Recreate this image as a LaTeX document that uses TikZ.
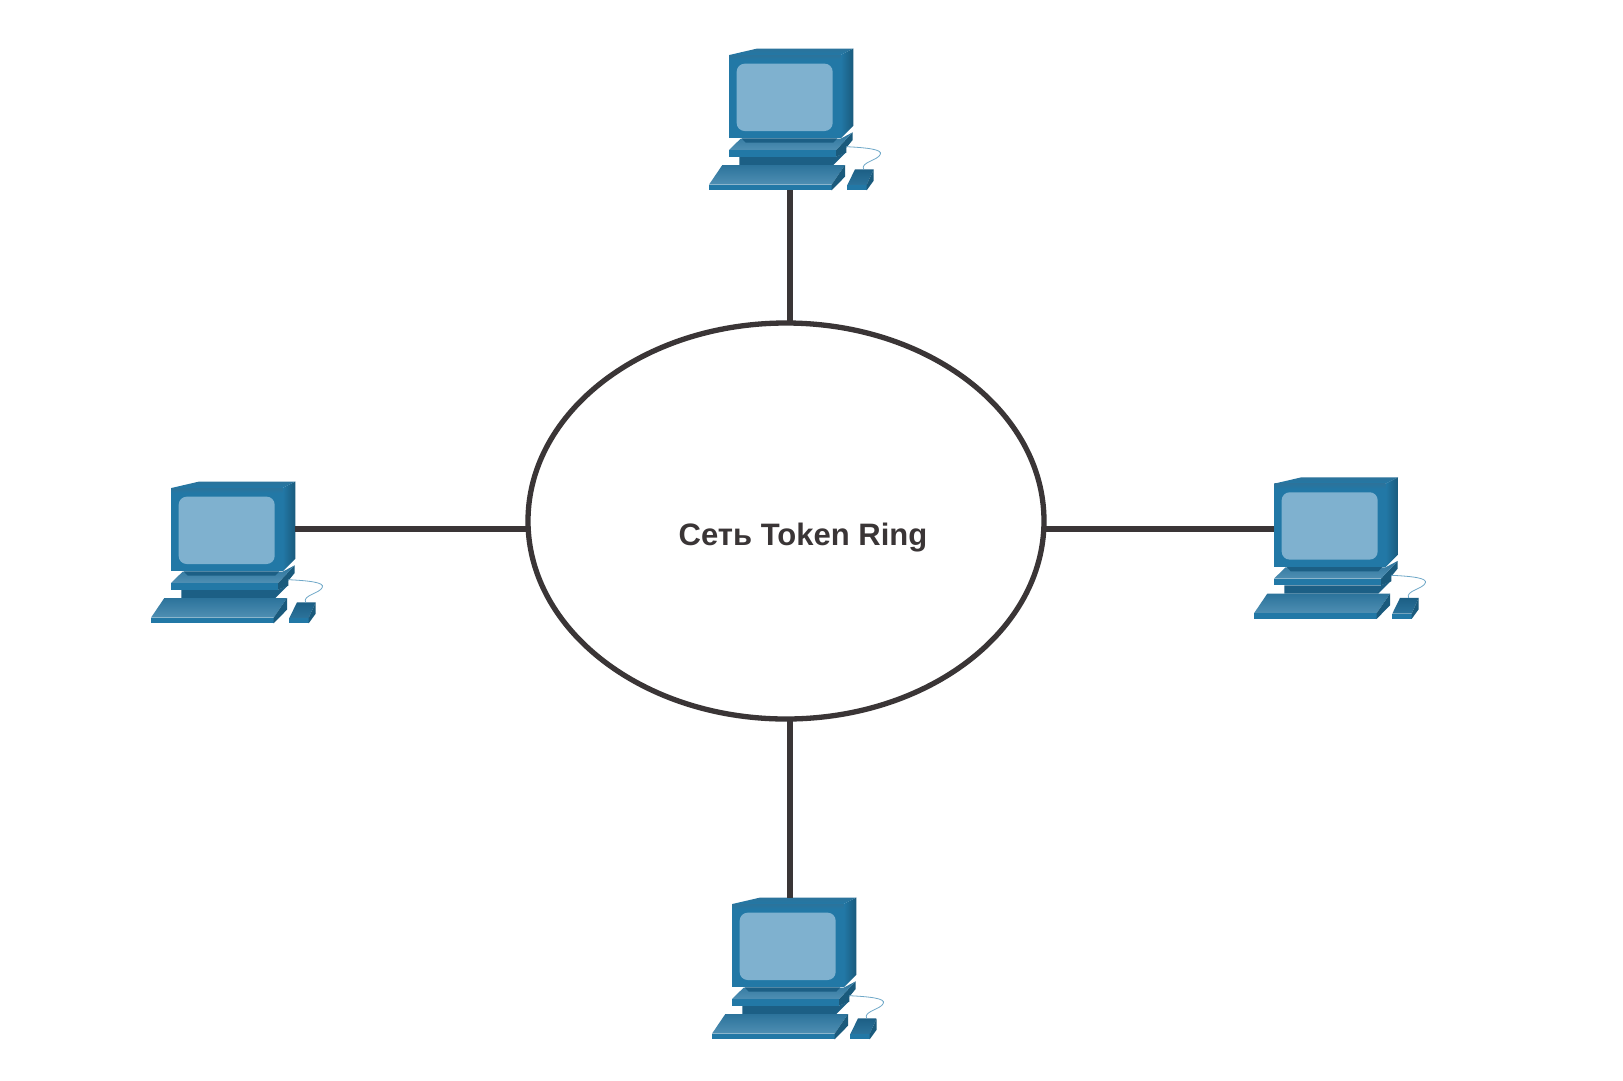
\documentclass[tikz,border=0pt]{standalone}
\usepackage{fontspec}
\setmainfont{Liberation Sans}
\usetikzlibrary{shapes.geometric}
\definecolor{pcfront}{HTML}{2278A6}
\definecolor{pcscreen}{HTML}{7FB1CF}
\definecolor{pcdark}{HTML}{1C5F85}
\definecolor{pcmid}{HTML}{2C739B}
\definecolor{pclight}{HTML}{4F8FB3}
\definecolor{pcedge}{HTML}{1A5A7C}
\definecolor{pcwire}{HTML}{6FA8C8}
\definecolor{inkgray}{HTML}{3A3536}
\tikzset{
  linkline/.style={draw=inkgray,line width=5.3pt},
  ringshape/.style={ellipse,draw=inkgray,line width=5.3pt,minimum width=516pt,minimum height=396pt,inner sep=0pt,outer sep=0pt},
  ringlabel/.style={text=inkgray,font=\fontsize{31}{37}\selectfont\bfseries,inner sep=0pt,anchor=base},
  computer/.pic={
    \begin{scope}[scale=1/3]
      % monitor top and side
      \path[top color=pcmid,bottom color=pcfront] (118,60)--(200,41)--(490,41)--(452,60)--cycle;
      \path[left color=pcfront,right color=pcedge] (452,60)--(490,41)--(490,272)--(452,310)--cycle;
      % base plate
      \path[fill=pcdark] (148,365)--(438,365)--(468,352)--(430,390)--(148,390)--cycle;
      \path[fill=pcedge] (438,345)--(488,292)--(488,315)--(469,338)--(469,353)--(438,365)--cycle;
      \path[top color=pcmid,bottom color=pclight] (117,345)--(152,311)--(452,311)--(488,292)--(438,345)--cycle;
      \path[fill=pcfront] (117,345) rectangle (438,365);
      \path[fill=pcdark] (155,310)--(442,310)--(430,323)--(167,323)--cycle;
      % front of monitor
      \path[fill=pcfront] (118,60) rectangle (452,310);
      \path[top color=pcmid,bottom color=pcfront] (118,60) rectangle (452,75);
      \path[fill=pcscreen,rounded corners=8pt] (140,86) rectangle (428,288);
      % keyboard
      \path[top color=pcmid,bottom color=pclight] (57,449)--(97,390)--(465,390)--(425,449)--cycle;
      \path[fill=pcfront] (57,449) rectangle (425,466);
      \path[fill=pcedge] (425,449)--(465,390)--(465,425)--(425,466)--cycle;
      % mouse
      \path[top color=pcdark,bottom color=pcmid] (472,450)--(495,403)--(551,403)--(530,450)--cycle;
      \path[fill=pcfront] (472,450) rectangle (530,466);
      \path[fill=pcedge] (530,450)--(551,403)--(551,437)--(530,466)--cycle;
      % wire
      \draw[pcwire,line width=0.8pt] (468,335) .. controls (530,338) and (578,343) .. (571,358) .. controls (564,376) and (510,382) .. (521,403);
      % ports
      \coordinate (-north) at (291,41);
      \coordinate (-south) at (300,466);
      \coordinate (-east) at (490,183);
      \coordinate (-west) at (118,196);
    \end{scope}
  }
}
\begin{document}
\begin{tikzpicture}[x=1pt,y=-1pt]
  \useasboundingbox (0,0) rectangle (1623,1080);
  \path[fill=white] (0,0) rectangle (1623,1080);
  \pic (T) at (690,35) {computer};
  \pic (L) at (132,468) {computer};
  \pic (R) at (1235,463.6) {computer};
  \pic (B) at (693,884) {computer};
  \node[ringshape] (ring) at (786,521) {};
  \node[ringlabel] (label) at (803,545) {Сеть Token Ring};
  \draw[linkline] (T-south) -- (T-south |- ring.north);
  \draw[linkline] (B-north) -- (B-north |- ring.south);
  \draw[linkline] (L-east) -- (L-east -| ring.west);
  \draw[linkline] (R-west) -- (R-west -| ring.east);
\end{tikzpicture}
\end{document}
